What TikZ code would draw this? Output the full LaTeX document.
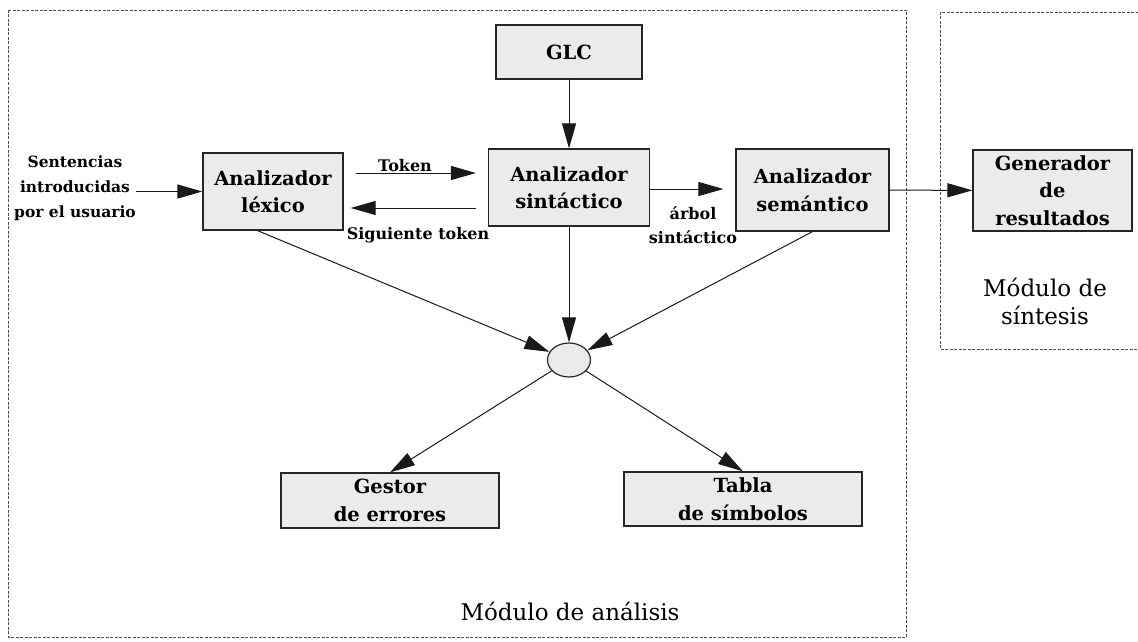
\documentclass[tikz,border=0pt]{standalone}
\usepackage{fontspec}
\setmainfont{DejaVu Serif}
\usetikzlibrary{arrows.meta,shapes.geometric,calc}
\begin{document}
\begin{tikzpicture}[x=1pt,y=-1pt,
  box/.style={draw=black!85,line width=1.2pt,fill=black!8,align=center,inner sep=0pt,font=\bfseries\fontsize{19.5}{27.5}\selectfont},
  lbl/.style={inner sep=0pt,align=center,font=\bfseries\fontsize{16}{24}\selectfont},
  mod/.style={inner sep=0pt,align=center,font=\fontsize{23}{28}\selectfont},
  arr/.style={draw=black!90,line width=1pt,-{Triangle[length=25pt,width=14pt]}},
  frame/.style={draw=black!70,line width=0.9pt,dash pattern=on 3pt off 1.5pt}]
\useasboundingbox (0,0) rectangle (1138,642);
\draw[frame] (8,10) rectangle (906,637);
\draw[frame] (940,12) rectangle (1150,349);

\node[box,minimum width=146pt,minimum height=54pt] (glc) at (569,52) {GLC};
\node[box,minimum width=140pt,minimum height=77pt] (lex) at (273,191.5) {Analizador\\léxico};
\node[box,minimum width=161pt,minimum height=77pt] (sin) at (569,187.5) {Analizador\\sintáctico};
\node[box,minimum width=153pt,minimum height=82pt] (sem) at (812.5,190) {Analizador\\semántico};
\node[box,minimum width=159pt,minimum height=81pt] (gen) at (1052.5,190.5) {Generador\\de\\resultados};
\node[box,ellipse,minimum width=43pt,minimum height=34pt] (ell) at (569,360) {};
\node[box,minimum width=218pt,minimum height=55pt] (ges) at (390,500.5) {Gestor\\de errores};
\node[box,minimum width=238pt,minimum height=54pt] (tab) at (743,499) {Tabla\\de símbolos};

\node[lbl,font=\bfseries\fontsize{15.5}{25}\selectfont] (src) at (75,188) {Sentencias\\introducidas\\por el usuario};
\node[lbl] (tok) at (405,166) {Token};
\node[lbl] (sig) at (418,235) {Siguiente token};
\node[lbl] (arb) at (693,225) {árbol\\sintáctico};
\node[mod] (msin) at (1045,301) {Módulo de\\síntesis};
\node[mod] (mana) at (570,611) {Módulo de análisis};

\draw[arr] (src.east |- lex) -- (lex.west);
\draw[arr] (glc) -- (sin);
\draw[arr] ($(lex.east)+(12,-18.5)$) -- ($(sin.west)+(-12,-14.5)$);
\draw[arr] ($(sin.west)+(-12,20.5)$) -- ($(lex.east)+(7,16.5)$);
\draw[arr] ($(sin.east)+(0,1.5)$) -- ($(sem.west)+(-12,-1)$);
\draw[arr] (sem) -- (gen);
\draw[arr] ($(lex.south west)!0.39!(lex.south east)$) -- (ell);
\draw[arr] (sin) -- (ell);
\draw[arr] (sem.south) -- (ell);
\draw[arr] (ell) -- (ges.north);
\draw[arr] (ell) -- (tab.north);
\end{tikzpicture}
\end{document}
